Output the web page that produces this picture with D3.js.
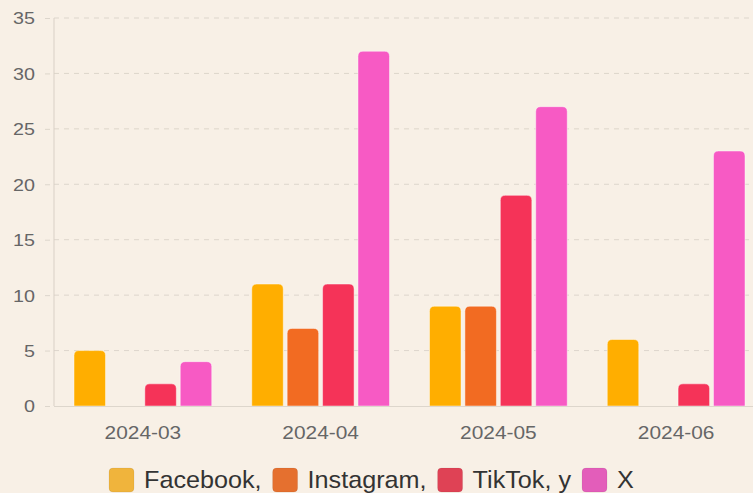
<!DOCTYPE html>
<html><head><meta charset="utf-8">
<script src="https://cdn.jsdelivr.net/npm/d3@7"></script>
<style>
html,body{margin:0;padding:0;background:#f8f0e6;}
svg{display:block;font-family:"Liberation Sans",Arial,sans-serif;}
</style></head>
<body>
<svg id="chart" width="753" height="493"></svg>
<script>
const categories = ["2024-03","2024-04","2024-05","2024-06"];
const seriesNames = ["Facebook","Instagram","TikTok","X"];
const legendLabels = ["Facebook,","Instagram,","TikTok, y","X"];
const facebook = [5,11,9,6];
const instagram = [0,7,9,0];
const tiktok = [2,11,19,2];
const xValues = [4,32,27,23];
const yTicks = [0,5,10,15,20,25,30,35];
const colors = ["#ffae00","#f26b22","#f53358","#f75ac4"];
const legendColors = ["#f0b43c","#e5702f","#df4255","#e35dba"];

const seriesValues = [facebook, instagram, tiktok, xValues];
const svg = d3.select("#chart");
const W = 753, H = 493;
const SX = 1.16;
const LSX = 1.05;
const m = {left:54, top:18, bottom:406, right:765};

const y = d3.scaleLinear().domain([0,35]).range([m.bottom, m.top]);
const x0 = d3.scaleBand().domain(categories).range([m.left, m.right]).paddingInner(0).paddingOuter(0);
const x1 = d3.scaleBand().domain(seriesNames).range([20, x0.bandwidth()-20]).paddingInner(0.11).paddingOuter(0);

// gridlines
svg.append("g").selectAll("line").data(yTicks.filter(d=>d>0)).join("line")
  .attr("x1", m.left).attr("x2", W).attr("y1", d=>y(d)).attr("y2", d=>y(d))
  .attr("stroke","#ddd6cc").attr("stroke-width",1).attr("stroke-dasharray","5,5");

// y axis
const yAxis = d3.axisLeft(y).tickValues(yTicks).tickSize(10).tickPadding(5);
const gy = svg.append("g").attr("transform",`translate(${m.left},0)`).call(yAxis);
gy.select(".domain").remove();
gy.selectAll(".tick line").attr("stroke","#ddd6cc").attr("x2",-14).attr("x1",-4).attr("stroke-dasharray","5,5");
gy.selectAll("text").attr("fill","#666").style("font-size","17px")
  .attr("x",-19/SX).attr("dy","0.35em").attr("transform",`scale(${SX},1)`);
svg.append("line").attr("x1",m.left).attr("x2",m.left).attr("y1",m.top).attr("y2",m.bottom).attr("stroke","#d9d0c6");

// bars
const data = [];
categories.forEach((c,i)=>seriesNames.forEach((s,j)=>data.push({c,s,j,v:seriesValues[j][i]})));
function barPath(x0p,w,yt,yb,r){
  const h = yb-yt; r = Math.min(r,h/2,w/2);
  if(h<=0) return "";
  return `M${x0p},${yb}V${yt+r}Q${x0p},${yt} ${x0p+r},${yt}H${x0p+w-r}Q${x0p+w},${yt} ${x0p+w},${yt+r}V${yb}Z`;
}
svg.append("g").selectAll("path").data(data.filter(d=>d.v>0)).join("path")
  .attr("d", d=>barPath(x0(d.c)+x1(d.s), x1.bandwidth(), y(d.v), y(0), 5))
  .attr("fill", d=>colors[d.j])
  .attr("stroke","rgba(255,255,255,0.45)").attr("stroke-width",1);

// x axis
const xAxis = d3.axisBottom(x0).tickSize(0).tickPadding(0);
const gx = svg.append("g").attr("transform",`translate(0,${m.bottom})`).call(xAxis);
gx.select(".domain").remove();
gx.selectAll("text").attr("fill","#666").style("font-size","18px")
  .attr("y",33).attr("dy",0).attr("transform",`scale(${SX},1)`);
svg.append("line").attr("x1",m.left).attr("x2",W).attr("y1",m.bottom+0.5).attr("y2",m.bottom+0.5).attr("stroke","#ddd6cc");

// legend
const lg = svg.append("g").attr("transform","translate(109,480)");
let cx = 0;
legendLabels.forEach((lab,i)=>{
  const g = lg.append("g").attr("transform",`translate(${cx},0)`);
  g.append("rect").attr("x",0).attr("y",-12).attr("width",25).attr("height",24).attr("rx",4)
    .attr("fill",legendColors[i]).attr("stroke","rgba(0,0,0,0.06)");
  const t = g.append("text").attr("x",0).attr("y",0).attr("dy","0.35em")
    .attr("transform",`translate(35,0) scale(${LSX},1)`)
    .attr("fill","#333").style("font-size","24px").text(lab);
  cx += 35 + t.node().getComputedTextLength()*LSX + 11;
});
</script>
</body></html>
